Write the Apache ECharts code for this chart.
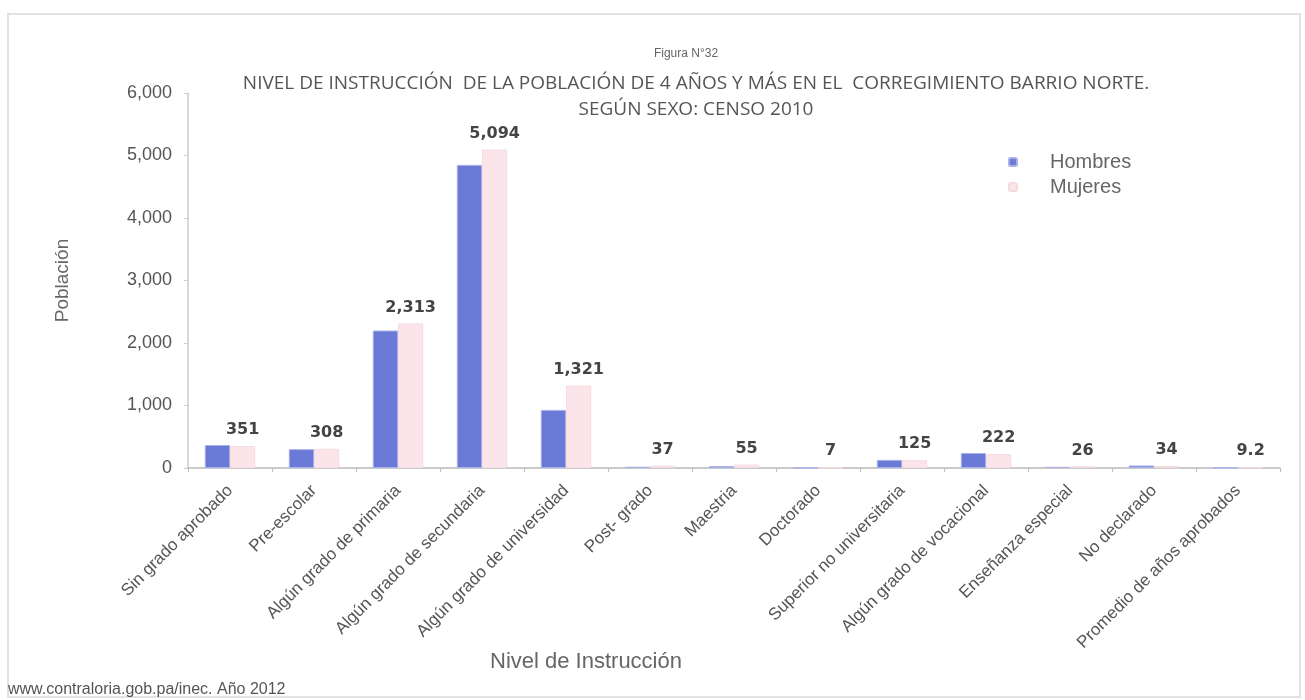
<!DOCTYPE html>
<html>
<head>
<meta charset="utf-8">
<script src="https://cdn.jsdelivr.net/npm/echarts@6/dist/echarts.min.js"></script>
<style>html,body{margin:0;padding:0;background:#fff;}#c{width:1305px;height:700px;}</style>
</head>
<body>
<div id="c"></div>
<script>
var categories = ['Sin grado aprobado','Pre-escolar','Algún grado de primaria','Algún grado de secundaria','Algún grado de universidad','Post- grado','Maestria','Doctorado','Superior no universitaria','Algún grado de vocacional','Enseñanza especial','No declarado','Promedio de años aprobados'];
var hombres = [368, 302, 2200, 4850, 930, 20, 30, 5, 130, 240, 18, 40, 9];
var mujeres = [351, 308, 2313, 5094, 1321, 37, 55, 7, 125, 222, 26, 34, 9.2];
var yTicks = [0, 1000, 2000, 3000, 4000, 5000, 6000];

var chart = echarts.init(document.getElementById('c'));
var font = '"Liberation Sans", Arial, sans-serif';
chart.setOption({
  backgroundColor: '#ffffff',
  animation: false,
  title: [
    {text: 'Figura N°32', left: 681, top: 43, textAlign: 'center',
     textStyle: {fontFamily: font, fontSize: 12, fontWeight: 'normal', color: '#666'}},
    {text: 'NIVEL DE INSTRUCCIÓN  DE LA POBLACIÓN DE 4 AÑOS Y MÁS EN EL  CORREGIMIENTO BARRIO NORTE.\nSEGÚN SEXO: CENSO 2010',
     left: 691, top: 66, textAlign: 'center',
     textStyle: {fontFamily: '"Open Sans", sans-serif', fontSize: 19, fontWeight: 'normal', color: '#555', lineHeight: 26}}
  ],
  legend: {
    orient: 'vertical', left: 1003, top: 147, itemWidth: 8, itemHeight: 8, itemGap: 5,
    textStyle: {fontFamily: font, fontSize: 20, color: '#666', padding: [0, 0, 0, 28]},
    data: ['Hombres', 'Mujeres']
  },
  grid: {left: 188, right: 25, top: 93, bottom: 232, containLabel: false},
  xAxis: {
    type: 'category', data: categories,
    axisLine: {lineStyle: {color: '#bbb', width: 1.5}},
    axisTick: {show: true, length: 4, lineStyle: {color: '#bbb'}},
    axisLabel: {rotate: 45, interval: 0, fontFamily: font, fontSize: 17, color: '#555', margin: 20}
  },
  yAxis: {
    type: 'value', min: 0, max: 6000, interval: 1000,
    axisLine: {show: true, lineStyle: {color: '#ccc', width: 1.5}},
    axisTick: {show: true, length: 4, lineStyle: {color: '#ccc'}},
    splitLine: {show: false},
    axisLabel: {fontFamily: font, fontSize: 18, color: '#555', margin: 16,
      formatter: function (v) { return yTicks.indexOf(v) >= 0 ? v.toLocaleString('en-US') : ''; }},
    name: 'Población', nameLocation: 'middle', nameGap: 116, nameRotate: 90,
    nameTextStyle: {fontFamily: font, fontSize: 19, color: '#666'}
  },
  series: [
    {name: 'Hombres', type: 'bar', data: hombres, barGap: '0%', barCategoryGap: '40%',
     itemStyle: {color: '#6b7ad6', borderColor: '#a8b0ea', borderWidth: 1}},
    {name: 'Mujeres', type: 'bar', data: mujeres,
     itemStyle: {color: '#fbe5ea', borderColor: '#f3dbe0', borderWidth: 1},
     label: {show: true, position: 'top', distance: 8, fontFamily: '"DejaVu Sans", sans-serif', fontSize: 16, fontWeight: 'bold', color: '#444',
       formatter: function (p) { return p.value.toLocaleString('en-US'); }}}
  ],
  graphic: [
    {type: 'rect', shape: {x: 8, y: 14, width: 1292, height: 683}, style: {fill: 'none', stroke: '#e2e2e2', lineWidth: 2}, silent: true},
    {type: 'text', left: 490, top: 651, style: {text: 'Nivel de Instrucción', font: '22px "Liberation Sans", Arial, sans-serif', fill: '#666'}},
    {type: 'text', left: 8, top: 682, style: {text: 'www.contraloria.gob.pa/inec. Año 2012', font: '16px "Liberation Sans", Arial, sans-serif', fill: '#555'}}
  ]
});
</script>
</body>
</html>
